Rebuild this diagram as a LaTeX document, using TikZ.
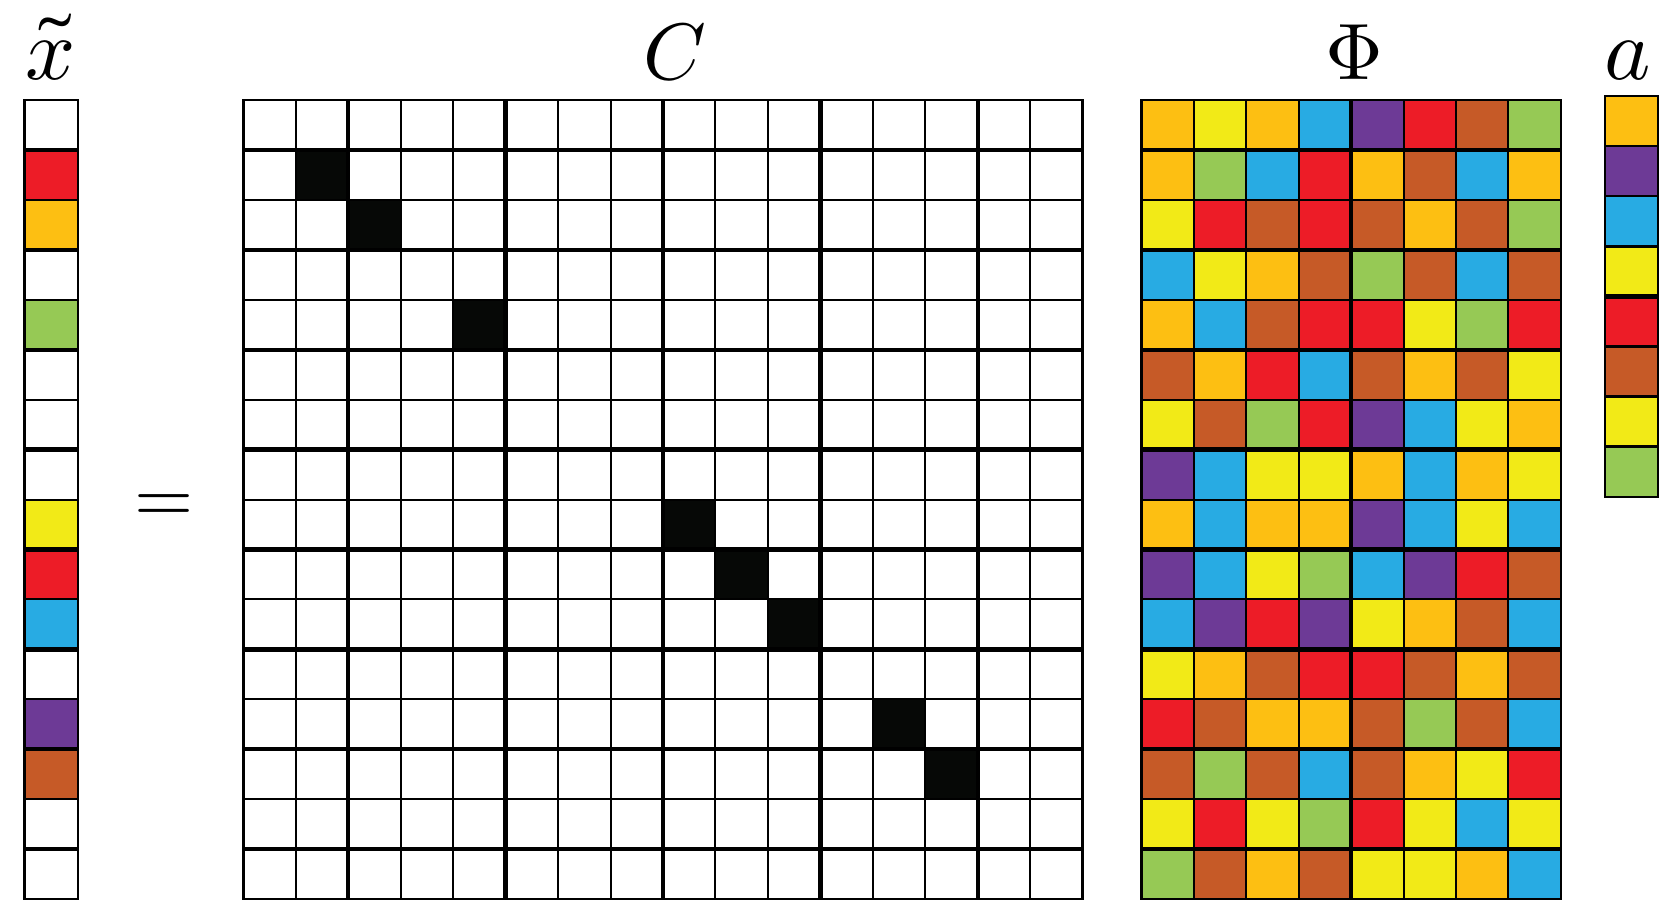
\documentclass[tikz,border=0pt]{standalone}
\usepackage{unicode-math}
\setmathfont{Latin Modern Math}
\definecolor{cO}{HTML}{FDBF12}
\definecolor{cY}{HTML}{F2EA17}
\definecolor{cB}{HTML}{28ABE3}
\definecolor{cP}{HTML}{6D3A96}
\definecolor{cR}{HTML}{ED1C27}
\definecolor{cN}{HTML}{C65A27}
\definecolor{cG}{HTML}{96C955}
\definecolor{cW}{HTML}{FFFFFF}
\definecolor{cK}{HTML}{060806}
\begin{document}
\begin{tikzpicture}[x=0.5pt,y=-0.5pt,
  thinl/.style={line width=1pt,draw=black},
  thickl/.style={line width=2.2pt,draw=black},
  lbl/.style={inner sep=0pt,anchor=base}]
\useasboundingbox (0,0) rectangle (1672,915);
\def\H{49.94}
% ---------- x tilde column ----------
\def\XL{24.5}\def\XR{78}
\foreach \c [count=\r from 0] in {W,R,O,W,G,W,W,W,Y,R,B,W,P,N,W,W}
  \fill[c\c] (\XL,{100+\r*\H}) rectangle (\XR,{100+\r*\H+\H});
\foreach \i in {1,...,15}{
  \pgfmathsetmacro\lw{isodd(\i)?2.2:1}
  \draw[line width=\lw pt] (\XL,{100+\i*\H}) -- (\XR,{100+\i*\H});}
\draw[thinl,line width=1.2pt] (\XL,100) rectangle (\XR,{100+16*\H});
% ---------- C matrix ----------
\def\CL{243.3}\def\CW{52.46}
\foreach \k in {1,2,4,8,9,10,12,13}
  \fill[cK] ({\CL+\k*\CW},{100+\k*\H}) rectangle ({\CL+\k*\CW+\CW},{100+\k*\H+\H});
\foreach \i in {1,...,15}{
  \pgfmathsetmacro\lw{isodd(\i)?2.2:1}
  \draw[line width=\lw pt] (\CL,{100+\i*\H}) -- ({\CL+16*\CW},{100+\i*\H});}
\foreach \j in {1,...,15}{
  \pgfmathsetmacro\lw{(mod(\j,3)==2)?2.2:1}
  \draw[line width=\lw pt] ({\CL+\j*\CW},100) -- ({\CL+\j*\CW},{100+16*\H});}
\draw[thinl,line width=1.2pt] (\CL,100) rectangle ({\CL+16*\CW},{100+16*\H});
% ---------- Phi matrix ----------
\def\PL{1141.5}\def\PW{52.4}
\foreach \row [count=\r from 0] in {
  {O,Y,O,B,P,R,N,G},
  {O,G,B,R,O,N,B,O},
  {Y,R,N,R,N,O,N,G},
  {B,Y,O,N,G,N,B,N},
  {O,B,N,R,R,Y,G,R},
  {N,O,R,B,N,O,N,Y},
  {Y,N,G,R,P,B,Y,O},
  {P,B,Y,Y,O,B,O,Y},
  {O,B,O,O,P,B,Y,B},
  {P,B,Y,G,B,P,R,N},
  {B,P,R,P,Y,O,N,B},
  {Y,O,N,R,R,N,O,N},
  {R,N,O,O,N,G,N,B},
  {N,G,N,B,N,O,Y,R},
  {Y,R,Y,G,R,Y,B,Y},
  {G,N,O,N,Y,Y,O,B}}{
  \foreach \c [count=\k from 0] in \row
    \fill[c\c] ({\PL+\k*\PW},{100+\r*\H}) rectangle ({\PL+\k*\PW+\PW},{100+\r*\H+\H});
}
\foreach \i in {1,...,15}{
  \pgfmathsetmacro\lw{isodd(\i)?2.2:1}
  \draw[line width=\lw pt] (\PL,{100+\i*\H}) -- ({\PL+8*\PW},{100+\i*\H});}
\foreach \j in {1,...,7}{
  \pgfmathsetmacro\lw{(\j==4)?2.2:1}
  \draw[line width=\lw pt] ({\PL+\j*\PW},100) -- ({\PL+\j*\PW},{100+16*\H});}
\draw[thinl,line width=1.2pt] (\PL,100) rectangle ({\PL+8*\PW},{100+16*\H});
% ---------- a column ----------
\def\AL{1605}\def\AR{1658}\def\AT{96}\def\AH{50.1}
\foreach \c [count=\r from 0] in {O,P,B,Y,R,N,Y,G}
  \fill[c\c] (\AL,{\AT+\r*\AH}) rectangle (\AR,{\AT+\r*\AH+\AH});
\foreach \i in {1,...,7}{
  \pgfmathsetmacro\lw{(\i==4)?2.4:1.3}
  \draw[line width=\lw pt] (\AL,{\AT+\i*\AH}) -- (\AR,{\AT+\i*\AH});}
\draw[thinl,line width=1.2pt] (\AL,\AT) rectangle (\AR,{\AT+8*\AH});
% ---------- labels ----------
\node[lbl] (lx) at (51,80) {\fontsize{44}{50}\selectfont$\tilde{x}$};
\node[lbl] (lc) at (675,80) {\fontsize{40}{48}\selectfont$C$};
\node[lbl] (lp) at (1354,80) {\fontsize{40}{48}\selectfont$\Phi$};
\node[lbl] (la) at (1628,80) {\fontsize{44}{50}\selectfont$a$};
\node[lbl] (eq) at (164,522) {\fontsize{38}{44}\selectfont$=$};
\end{tikzpicture}
\end{document}
